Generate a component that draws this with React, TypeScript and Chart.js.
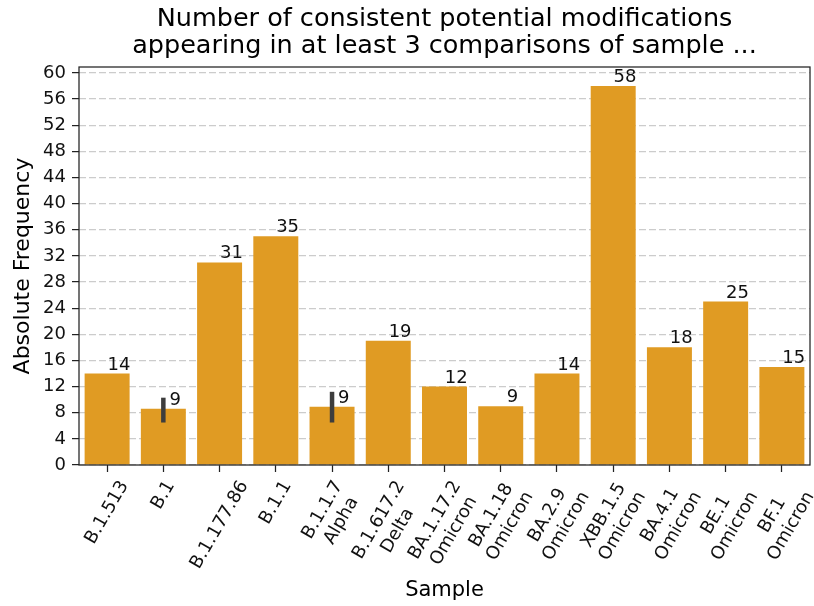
import React, { useEffect, useRef } from 'react';
import { Chart, registerables } from 'chart.js';

Chart.register(...registerables);

// ---- data ----
const categories = [
  'B.1.513',
  'B.1',
  'B.1.177.86',
  'B.1.1',
  'B.1.1.7\nAlpha',
  'B.1.617.2\nDelta',
  'BA.1.17.2\nOmicron',
  'BA.1.18\nOmicron',
  'BA.2.9\nOmicron',
  'XBB.1.5\nOmicron',
  'BA.4.1\nOmicron',
  'BE.1\nOmicron',
  'BF.1\nOmicron',
];
const values = [14, 8.6, 31, 35, 8.9, 19, 12, 9, 14, 58, 18, 25, 15];
const valueLabels = ['14', '9', '31', '35', '9', '19', '12', '9', '14', '58', '18', '25', '15'];
const errLow: (number | null)[] = [null, 6.5, null, null, 6.5, null, null, null, null, null, null, null, null];
const errHigh: (number | null)[] = [null, 10.3, null, null, 11.2, null, null, null, null, null, null, null, null];
const yMax = 60.9;
const yStep = 4;
const titleLines = [
  'Number of consistent potential modifications',
  'appearing in at least 3 comparisons of sample ...',
];
const xTitle = 'Sample';
const yTitle = 'Absolute Frequency';

const FONT = '"DejaVu Sans", sans-serif';
const BAR_COLOR = '#e09b23';
const TICK_LEN = 7;

const overlayPlugin = {
  id: 'overlay',
  afterDraw(chart: any) {
    const ctx = chart.ctx as CanvasRenderingContext2D;
    const xs = chart.scales.x;
    const ys = chart.scales.y;
    const area = chart.chartArea;
    ctx.save();

    // error bars
    ctx.strokeStyle = '#3d3d3d';
    ctx.lineWidth = 4.5;
    ctx.lineCap = 'butt';
    values.forEach((_, i) => {
      const lo = errLow[i];
      const hi = errHigh[i];
      if (lo == null || hi == null) return;
      const x = xs.getPixelForValue(i);
      ctx.beginPath();
      ctx.moveTo(x, ys.getPixelForValue(lo));
      ctx.lineTo(x, ys.getPixelForValue(hi));
      ctx.stroke();
    });

    // value labels
    ctx.fillStyle = '#111';
    ctx.font = `18px ${FONT}`;
    ctx.textAlign = 'center';
    ctx.textBaseline = 'alphabetic';
    values.forEach((v, i) => {
      const x = xs.getPixelForValue(i + 0.21);
      const y = ys.getPixelForValue(v) - 4;
      ctx.fillText(valueLabels[i], x, y);
    });

    // frame
    ctx.strokeStyle = '#222';
    ctx.lineWidth = 1.25;
    ctx.strokeRect(area.left, area.top, area.right - area.left, area.bottom - area.top);

    // rotated x tick labels (centered like matplotlib)
    const fs = 18;
    const lh = fs * 1.2;
    const theta = Math.PI / 3;
    ctx.font = `${fs}px ${FONT}`;
    ctx.fillStyle = '#111';
    ctx.textAlign = 'center';
    ctx.textBaseline = 'middle';
    categories.forEach((lab, i) => {
      const lines = lab.split('\n');
      const w = Math.max(...lines.map((l) => ctx.measureText(l).width));
      const h = lines.length * lh;
      const bh = w * Math.sin(theta) + h * Math.cos(theta);
      const x = xs.getPixelForValue(i);
      const y = area.bottom + TICK_LEN + 5 + bh / 2;
      ctx.save();
      ctx.translate(x, y);
      ctx.rotate(-theta);
      lines.forEach((l, j) => ctx.fillText(l, 0, (j - (lines.length - 1) / 2) * lh));
      ctx.restore();
    });

    ctx.restore();
  },
};

export default function App() {
  const ref = useRef<HTMLCanvasElement | null>(null);
  useEffect(() => {
    if (!ref.current) return;
    const chart = new Chart(ref.current, {
      type: 'bar',
      data: {
        labels: categories,
        datasets: [
          {
            data: values,
            backgroundColor: BAR_COLOR,
            borderWidth: 0,
            barPercentage: 0.8,
            categoryPercentage: 1,
          },
        ],
      },
      options: {
        responsive: false,
        animation: false,
        devicePixelRatio: 1,
        layout: { padding: { left: 0, right: 4, top: 0, bottom: 0 } },
        plugins: {
          legend: { display: false },
          tooltip: { enabled: false },
          title: {
            display: true,
            text: titleLines,
            fullSize: false,
            color: '#000',
            font: { family: FONT, size: 25.5, weight: 'normal', lineHeight: '27px' },
            padding: { top: 6, bottom: 7 },
          },
        },
        scales: {
          x: {
            type: 'category',
            offset: true,
            afterFit: (s: any) => {
              s.height = 141;
            },
            grid: {
              display: true,
              drawOnChartArea: false,
              drawTicks: true,
              tickLength: TICK_LEN,
              tickColor: '#222',
              tickWidth: 1.25,
              offset: false,
            },
            border: { display: false },
            ticks: { display: false },
            title: {
              display: true,
              text: xTitle,
              color: '#000',
              font: { family: FONT, size: 21, weight: 'normal', lineHeight: 1.2 },
              padding: { top: 0, bottom: 3 },
            },
          },
          y: {
            type: 'linear',
            min: 0,
            max: yMax,
            z: 1,
            afterFit: (s: any) => {
              s.width = 79;
            },
            ticks: {
              stepSize: yStep,
              includeBounds: false,
              color: '#111',
              font: { family: FONT, size: 18 },
              padding: 6,
            },
            grid: {
              color: '#cccccc',
              lineWidth: 1.2,
              drawTicks: true,
              tickLength: TICK_LEN,
              tickColor: '#222',
              tickWidth: 1.25,
              tickBorderDash: [],
            },
            border: { display: false, dash: [7, 3] },
            title: {
              display: true,
              text: yTitle,
              color: '#000',
              font: { family: FONT, size: 22, weight: 'normal', lineHeight: 1.2 },
              padding: { top: 10, bottom: 0 },
            },
          },
        },
      },
      plugins: [overlayPlugin],
    } as any);
    return () => chart.destroy();
  }, []);

  return (
    <div style={{ position: 'fixed', left: 0, top: 0, width: 814, height: 606, background: '#fff' }}>
      <canvas ref={ref} width={814} height={606} style={{ display: 'block' }} />
    </div>
  );
}
